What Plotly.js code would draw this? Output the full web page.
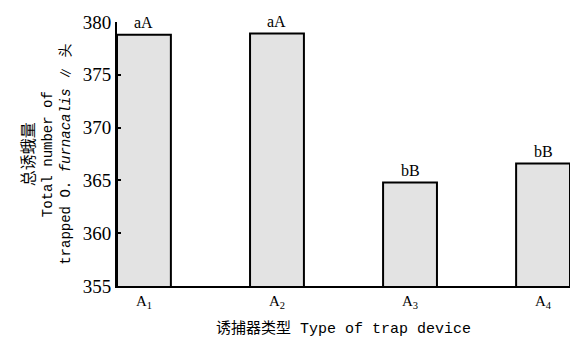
<!DOCTYPE html>
<html><head><meta charset="utf-8">
<script src="https://cdn.plot.ly/plotly-3.0.1.min.js"></script>
<style>html,body{margin:0;padding:0;background:#fff}#c{width:571px;height:348px}</style>
</head><body><div id="c"></div>
<script>
const categories = ['A<sub>1</sub>','A<sub>2</sub>','A<sub>3</sub>','A<sub>4</sub>'];
const totals = [378.8, 378.9, 364.8, 366.6];
const letters = ['aA','aA','bB','bB'];
const yTicks = [355,360,365,370,375,380];

const xpos = categories.map((c,i)=>i);
const serif = 'Liberation Serif, Times New Roman, serif';
const mono = 'Liberation Mono, Noto Sans CJK SC, monospace';

const trace = {
  type:'bar', x:xpos, y:totals, width:0.405,
  marker:{color:'#e3e3e3', line:{color:'#000', width:2}},
  hoverinfo:'none', cliponaxis:false
};
const annotations = totals.map((v,i)=>({
  x:i, y:v, xref:'x', yref:'y', text:letters[i], showarrow:false,
  yanchor:'bottom', yshift:2, font:{family:serif, size:16, color:'#000'}
}));
annotations.push({
  xref:'paper', yref:'paper', x:-0.155, y:0.5, textangle:-90, showarrow:false,
  xanchor:'center', yanchor:'middle', align:'center',
  text:'<span style="font-size:16px">总诱蛾量</span><br>Total number of<br>trapped O. <i>furnacalis</i> ∥ 头',
  font:{family:mono, size:14, color:'#000'}
});
const layout = {
  width:571, height:348,
  margin:{l:117, r:1, t:22, b:62},
  paper_bgcolor:'#fff', plot_bgcolor:'#fff',
  showlegend:false,
  xaxis:{
    range:[-0.2025, 3.2025], tickvals:xpos, ticktext:categories,
    showline:true, linecolor:'#000', linewidth:2, showgrid:false, zeroline:false,
    ticks:'', tickfont:{family:serif, size:15, color:'#000'},
    title:{text:'诱捕器类型 Type of trap device', font:{family:mono, size:15, color:'#000'}, standoff:12}
  },
  yaxis:{
    range:[355,380], tickvals:yTicks, ticktext:yTicks.map(String),
    showline:true, linecolor:'#000', linewidth:2, showgrid:false, zeroline:false,
    ticks:'inside', ticklen:4, tickwidth:2, tickcolor:'#000',
    tickfont:{family:serif, size:19, color:'#000'}
  },
  annotations:annotations
};
Plotly.newPlot('c',[trace],layout,{staticPlot:true});
</script></body></html>
